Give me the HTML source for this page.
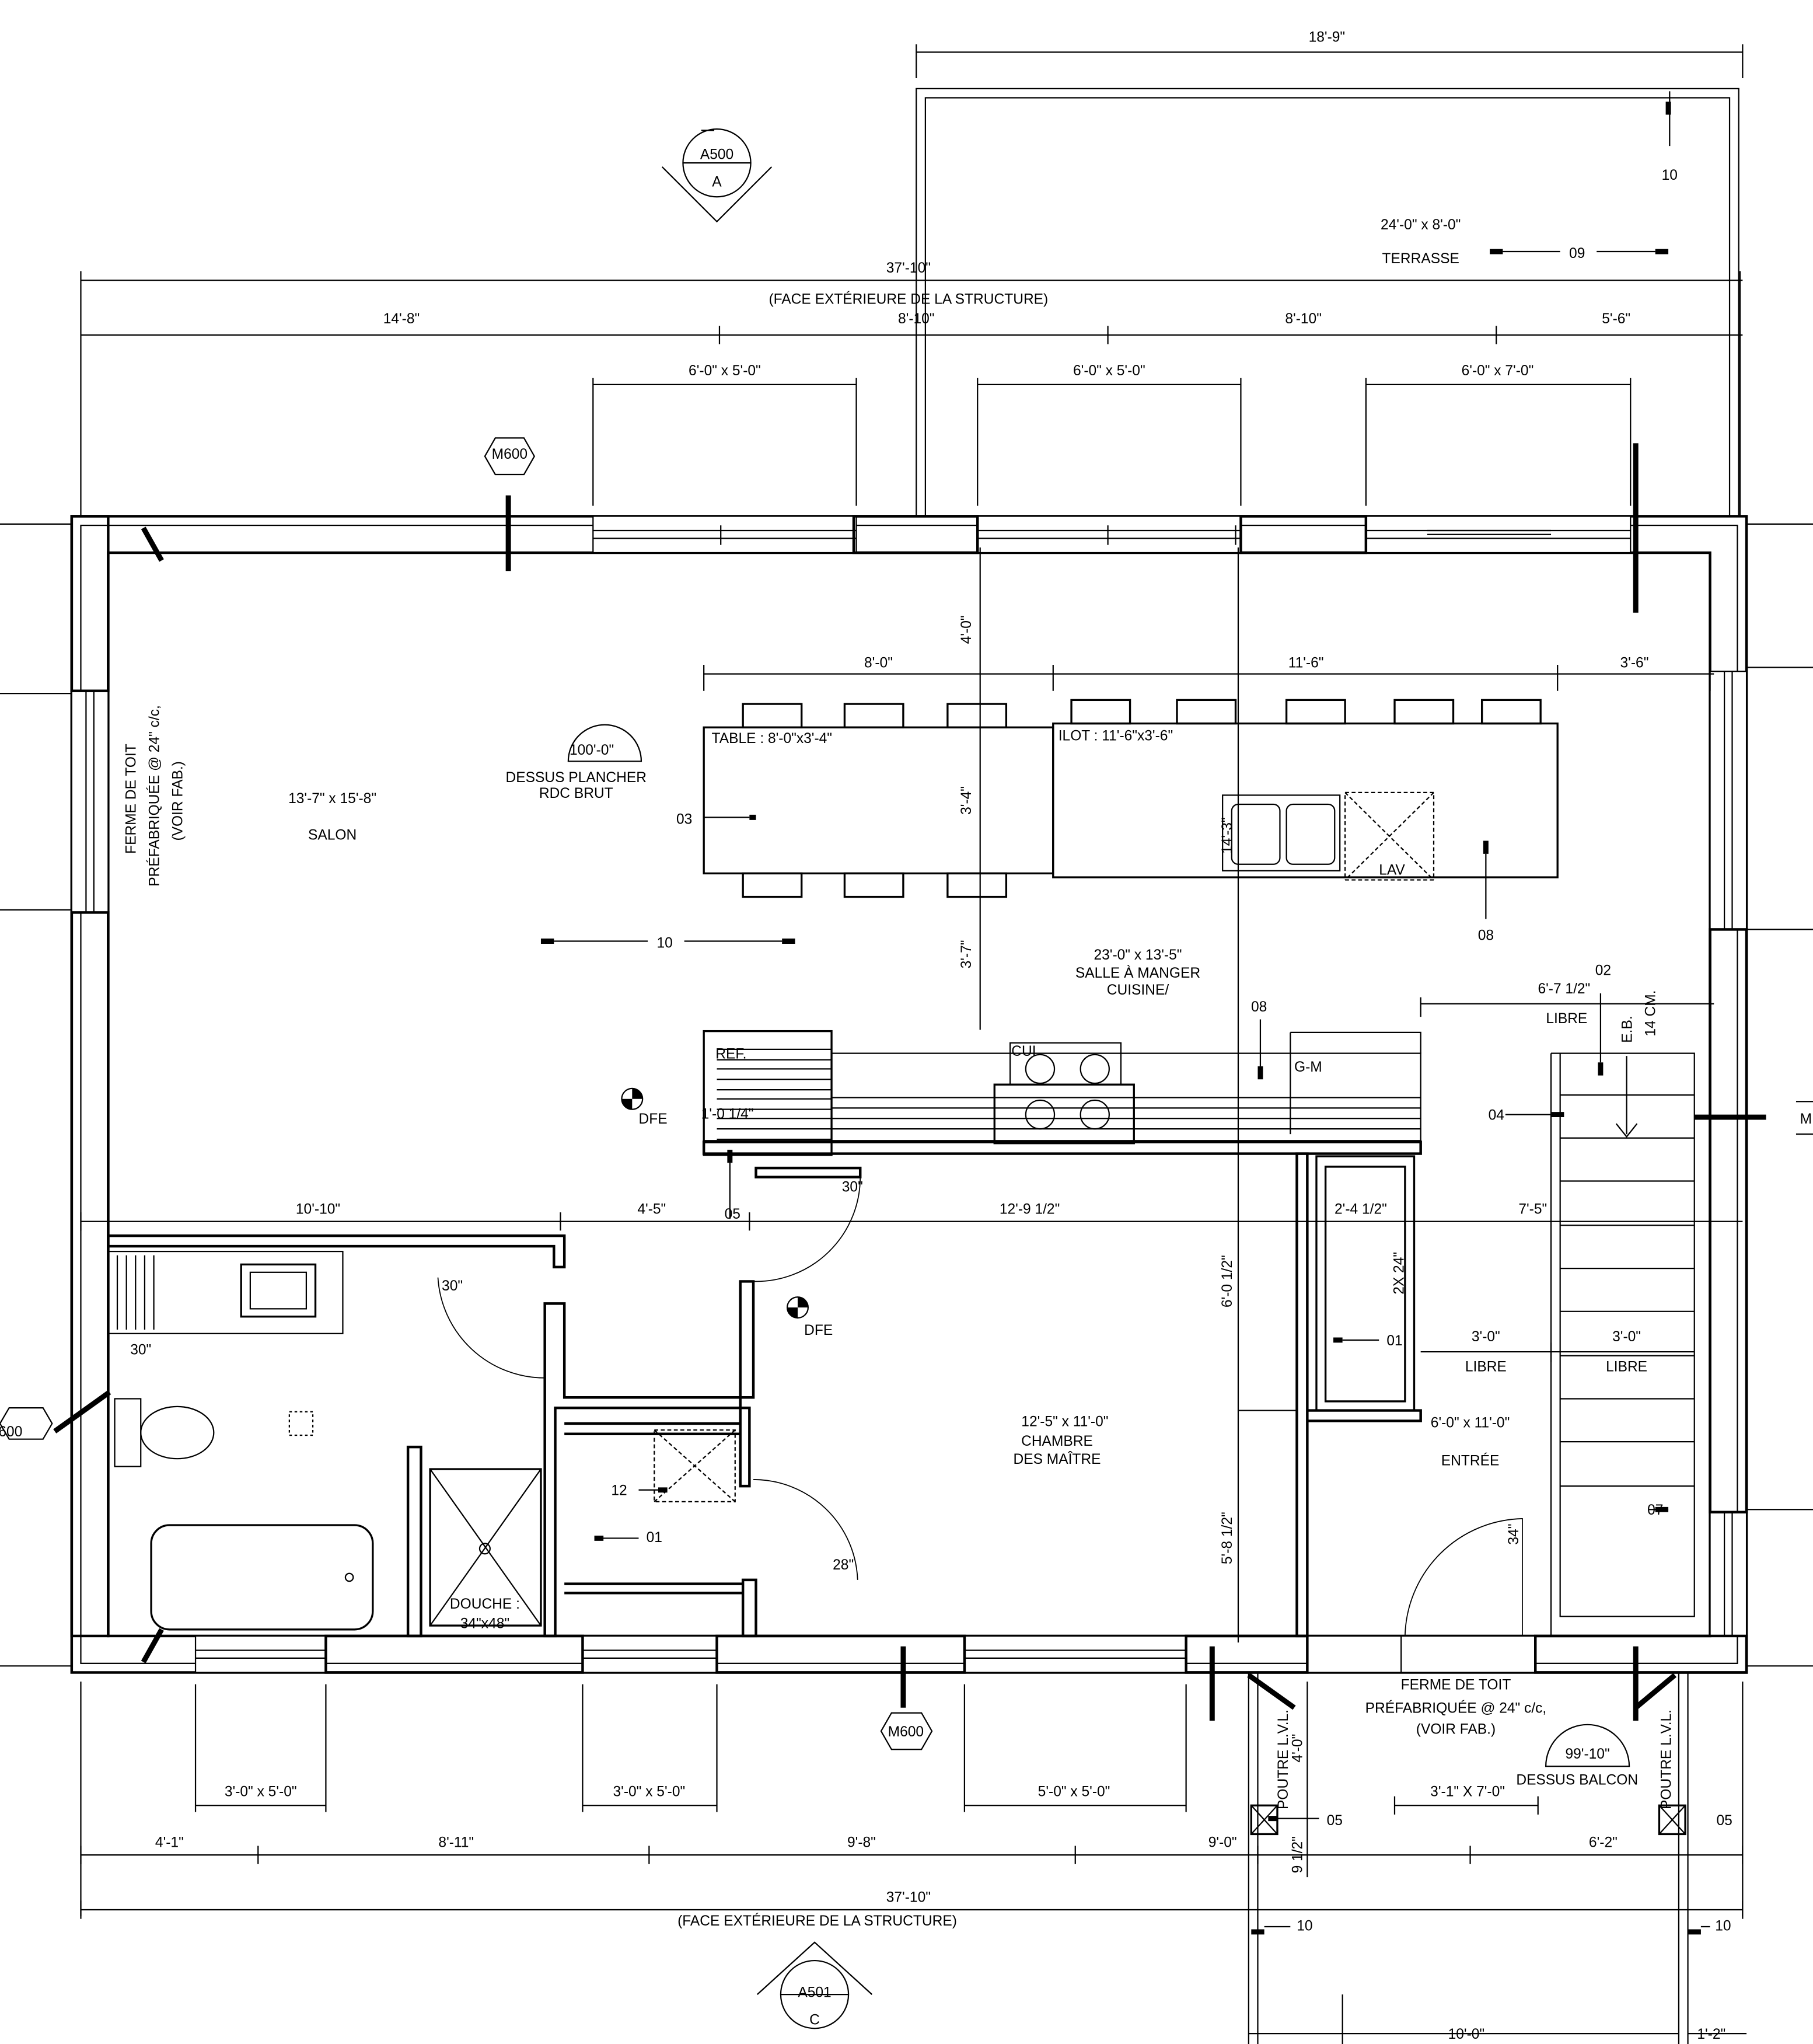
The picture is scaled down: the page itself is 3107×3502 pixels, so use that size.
<!DOCTYPE html>
<html><head><meta charset="utf-8"><style>
html,body{margin:0;padding:0;background:#fff}
svg{display:block}
text{font-family:"Liberation Sans",sans-serif;font-size:11px;fill:#000}
</style></head><body>
<svg width="3107" height="3502" viewBox="0 0 1391 1568" preserveAspectRatio="none" xmlns="http://www.w3.org/2000/svg">
<rect width="1391" height="1568" fill="#fff"/>
<g stroke="#000" fill="none" stroke-width="1">
<!-- terrace -->
<path d="M703 396V68H1334V396M710 396V75H1327V396"/>
<line x1="703" y1="40" x2="1337" y2="40"/>
<line x1="703" y1="34" x2="703" y2="60"/><line x1="1337" y1="34" x2="1337" y2="60"/>
<line x1="1281" y1="70" x2="1281" y2="112"/>
<!-- dims top -->
<line x1="62" y1="215" x2="1337" y2="215"/>
<line x1="62" y1="257" x2="1337" y2="257"/>
<line x1="62" y1="208" x2="62" y2="396"/><line x1="1335" y1="208" x2="1335" y2="396"/>
<line x1="552" y1="250" x2="552" y2="264"/><line x1="850" y1="250" x2="850" y2="264"/><line x1="1148" y1="250" x2="1148" y2="264"/>
<path d="M455 295H657M750 295H952M1048 295H1251"/>
<path d="M455 290V388M657 290V388M750 290V388M952 290V388M1048 290V388M1251 290V388"/>
<path d="M0 402H55M1340 402H1391M0 532H55M0 698H55M1340 512H1391M1340 713H1391M1340 1158H1391M0 1278H55M1340 1278H1391"/>
<!-- outer walls -->
<rect x="55" y="396" width="1285" height="887" stroke-width="2"/>
<rect x="83" y="424" width="1229" height="831" stroke-width="2"/>
<rect x="62" y="403" width="1271" height="873"/>
<!-- window openings top -->
<g fill="#fff">
<rect x="455" y="396" width="202" height="28"/><rect x="750" y="396" width="202" height="28"/><rect x="1048" y="396" width="203" height="28"/>
<rect x="55" y="530" width="28" height="170"/><rect x="1312" y="515" width="28" height="198"/><rect x="1312" y="1160" width="28" height="95"/>
<rect x="150" y="1255" width="100" height="28"/><rect x="447" y="1255" width="103" height="28"/><rect x="740" y="1255" width="170" height="28"/><rect x="1003" y="1255" width="75" height="28"/><rect x="1075" y="1255" width="103" height="28"/>
</g>
<path d="M455 407H657M455 413H657M750 407H952M750 413H952M1048 407H1251M1048 413H1251M66 530V700M72 530V700M1323 515V713M1329 515V713M1323 1160V1255M1329 1160V1255M150 1266H250M150 1272H250M447 1266H550M447 1272H550M740 1266H910M740 1272H910"/>
<path d="M553 403V418M850 403V418M948 403V418M1095 407H1190M1095 410H1190"/>
<rect x="655" y="396" width="95" height="28" stroke-width="2"/><rect x="952" y="396" width="96" height="28" stroke-width="2"/>
<rect x="55" y="396" width="28" height="134" stroke-width="2"/><rect x="55" y="700" width="28" height="555" stroke-width="2"/>
<rect x="1312" y="713" width="28" height="447" stroke-width="2"/>
<rect x="250" y="1255" width="197" height="28" stroke-width="2"/><rect x="550" y="1255" width="190" height="28" stroke-width="2"/><rect x="910" y="1255" width="93" height="28" stroke-width="2"/><rect x="1178" y="1255" width="162" height="28" stroke-width="2"/>
<!-- table & island -->
<rect x="540" y="558" width="268" height="112" stroke-width="1.5"/>
<rect x="808" y="555" width="387" height="118" stroke-width="1.5"/>
<g stroke-width="1.5">
<rect x="570" y="540" width="45" height="18"/><rect x="648" y="540" width="45" height="18"/><rect x="727" y="540" width="45" height="18"/>
<rect x="570" y="670" width="45" height="18"/><rect x="648" y="670" width="45" height="18"/><rect x="727" y="670" width="45" height="18"/>
<rect x="822" y="537" width="45" height="18"/><rect x="903" y="537" width="45" height="18"/><rect x="987" y="537" width="45" height="18"/><rect x="1070" y="537" width="45" height="18"/><rect x="1137" y="537" width="45" height="18"/>
</g>
<rect x="938" y="610" width="90" height="58"/><rect x="945" y="617" width="37" height="46" rx="5"/><rect x="987" y="617" width="37" height="46" rx="5"/>
<rect x="1032" y="608" width="68" height="67" stroke-dasharray="3 2"/><path d="M1032 608L1100 675M1100 608L1032 675" stroke-dasharray="3 2"/>
<path d="M540 517H1315M540 510V530M808 510V530M1195 510V530M1312 510V530"/>
<path d="M752 420V790" /><path d="M950 420V1260"/>
<!-- kitchen counter -->
<rect x="540" y="791" width="98" height="95" stroke-width="1.5"/>
<path d="M550 805H638M550 813H638M550 820H638M550 828H638M550 836H638M550 843H638M550 851H638M550 858H638M550 866H638M550 874H638"/>
<path d="M638 808H1090V875H540M638 842H1090M638 850H1090M638 858H1090M638 866H1090M860 842H990" />
<rect x="763" y="832" width="107" height="45" stroke-width="1.5"/><rect x="775" y="800" width="85" height="32"/>
<circle cx="798" cy="820" r="11"/><circle cx="840" cy="820" r="11"/><circle cx="798" cy="855" r="11"/><circle cx="840" cy="855" r="11"/>
<path d="M990 792H1090V808M990 792V870"/>
<!-- interior walls -->
<g stroke-width="2">
<path d="M83 948H433V972H425V956H83Z"/>
<path d="M540 876H1090V885H540Z"/>
<path d="M580 896H660V903H580Z"/>
<path d="M418 1000V1255H426V1080H575V1140H568V983H578V1072H433V1000Z"/>
<path d="M433 1092H568M433 1100H568" />
<path d="M433 1215H570V1222H433M570 1212V1255H580V1212Z"/>
<path d="M313 1110V1255H323V1110Z"/>
<path d="M995 885V1255H1003V885Z"/>
<path d="M1010 887H1085V1082H1010ZM1017 895H1078V1075H1017Z" stroke-width="1.5"/>
<path d="M1003 1082H1090V1090H1003"/>
</g>
<!-- bathroom fixtures -->
<rect x="83" y="960" width="180" height="63"/><rect x="185" y="970" width="57" height="40" stroke-width="1.5"/><rect x="192" y="976" width="43" height="28"/>
<path d="M90 963V1020M97 963V1020M104 963V1020M111 963V1020M118 963V1020"/>
<rect x="88" y="1073" width="20" height="52"/><ellipse cx="136" cy="1099" rx="28" ry="20"/>
<rect x="116" y="1170" width="170" height="80" rx="14" stroke-width="1.5"/><circle cx="268" cy="1210" r="3"/>
<rect x="330" y="1127" width="85" height="120" stroke-width="1.5"/><path d="M330 1127L415 1247M415 1127L330 1247"/><circle cx="372" cy="1188" r="4"/>
<rect x="502" y="1097" width="62" height="55" stroke-dasharray="3 2"/><path d="M502 1097L564 1152M564 1097L502 1152" stroke-dasharray="3 2"/>
<rect x="222" y="1083" width="18" height="18" stroke-dasharray="2 2"/>
<!-- door arcs -->
<path d="M336 980A82 82 0 0 0 418 1057" stroke-width="0.8"/>
<path d="M578 983A80 80 0 0 0 660 903" stroke-width="0.8"/>
<path d="M578 1135A80 80 0 0 1 658 1212" stroke-width="0.8"/>
<path d="M1078 1255A92 92 0 0 1 1168 1165V1255" stroke-width="0.8"/>
<!-- stairs -->
<path d="M1190 808V1255M1197 808V1240H1300V808H1190"/>
<path d="M1197 840H1300M1197 873H1300M1197 906H1300M1197 940H1300M1197 973H1300M1197 1006H1300M1197 1040H1300M1197 1073H1300M1197 1106H1300M1197 1140H1300"/>
<path d="M1248 810V870M1240 862L1248 872L1256 862"/>
<path d="M1090 770H1315M1090 765V780M1312 765V780"/>
<path d="M1090 1037H1300M1190 1030V1045"/>
<path d="M1300 857H1355" stroke-width="4"/>
<!-- dims mid -->
<path d="M62 937H1337M62 930V944M430 930V944M575 930V944M1003 930V944M1085 930V944"/>
<path d="M950 1082H995"/>
<!-- bottom structure -->
<path d="M958 1283V1568M965 1283V1568M1288 1283V1568M1295 1283V1568"/>
<path d="M958 1285L993 1310M1285 1285L1255 1310" stroke-width="4"/>
<rect x="960" y="1385" width="20" height="22" stroke-width="1.5"/><path d="M960 1385L980 1407M980 1385L960 1407"/>
<rect x="1273" y="1385" width="20" height="22" stroke-width="1.5"/><path d="M1273 1385L1293 1407M1293 1385L1273 1407"/>
<path d="M1070 1385H1180M1070 1378V1392M1180 1378V1392"/>
<path d="M62 1423H1337M62 1416V1430M198 1416V1430M498 1416V1430M825 1416V1430M965 1416V1430M1128 1416V1430M1337 1416V1430"/>
<path d="M62 1465H1337M62 1458V1472M1337 1458V1472"/>
<path d="M62 1290V1470M1337 1290V1470"/>
<path d="M150 1385H250M447 1385H550M740 1385H910M150 1292V1390M250 1292V1390M447 1292V1390M550 1292V1390M740 1292V1390M910 1292V1390"/>
<path d="M958 1560H1288M1295 1560H1340"/>
<path d="M1003 1290V1440"/>
<!-- markers -->
<path d="M538 100L548 100M524 125a26 26 0 1 0 52 0a26 26 0 1 0 -52 0M508 128L550 170L592 128"/>
<path d="M599 1530a26 26 0 1 0 52 0a26 26 0 1 0 -52 0M581 1530L625 1490L669 1530"/>
<path d="M599 1530H651M524 125H576"/>
<path d="M372 350L380 336H402L410 350L402 364H380Z"/>
<path d="M676 1328L684 1314H707L715 1328L707 1342H684Z"/>
<path d="M0 1092L7 1080H33L40 1092L33 1104H7Z"/>
<path d="M1378 845L1391 845M1378 870L1391 870"/>
<path d="M436 584a28 28 0 0 1 56 0Z"/>
<path d="M1186 1355a32 32 0 0 1 64 0Z"/>
<circle cx="485" cy="843" r="8"/><circle cx="612" cy="1003" r="8"/>
</g>
<g fill="#000">
<path d="M485 835A8 8 0 0 1 493 843H485ZM485 851A8 8 0 0 1 477 843H485Z"/>
<path d="M612 995A8 8 0 0 1 620 1003H612ZM612 1011A8 8 0 0 1 604 1003H612Z"/>
</g>
<g stroke="#000" stroke-width="4">
<path d="M390 380V438M1255 340V470M110 405L124 430M110 1275L124 1250M42 1098L84 1068M693 1263V1310M930 1263V1320M1255 1263V1320"/>
<path d="M1143 193H1153M1270 193H1280M415 722H425M600 722H610M575 627H580M960 1482H970M1295 1482H1305M1140 645V655M967 818V828M1228 815V825M1190 855H1200M1270 1158H1280M1023 1028H1030M1280 78V88M456 1180H463M505 1143H512M560 882V892M973 1395H980"/>
</g>
<g stroke="#000" stroke-width="1">
<path d="M1153 193H1197M1225 193H1270M425 722H497M525 722H600M540 627H575M460 1180H490M512 1143H490M1030 1028H1058M1155 855H1190M1265 1158H1280M1140 655V705M967 782V818M1228 762V815M980 1395H1012M970 1478H990M1305 1478H1312M1030 1530V1568M560 892V935"/>
</g>
<g>
<text x="1018" y="32" text-anchor="middle">18'-9"</text>
<text x="1281" y="138" text-anchor="middle">10</text>
<text x="1090" y="176" text-anchor="middle">24'-0" x 8'-0"</text>
<text x="1090" y="202" text-anchor="middle">TERRASSE</text>
<text x="1210" y="198" text-anchor="middle">09</text>
<text x="697" y="209" text-anchor="middle">37'-10"</text>
<text x="697" y="233" text-anchor="middle">(FACE EXTÉRIEURE DE LA STRUCTURE)</text>
<text x="308" y="248" text-anchor="middle">14'-8"</text><text x="703" y="248" text-anchor="middle">8'-10"</text><text x="1000" y="248" text-anchor="middle">8'-10"</text><text x="1240" y="248" text-anchor="middle">5'-6"</text>
<text x="556" y="288" text-anchor="middle">6'-0" x 5'-0"</text><text x="851" y="288" text-anchor="middle">6'-0" x 5'-0"</text><text x="1149" y="288" text-anchor="middle">6'-0" x 7'-0"</text>
<text x="550" y="122" text-anchor="middle">A500</text><text x="550" y="143" text-anchor="middle">A</text>
<text x="391" y="352" text-anchor="middle">M600</text>
<text x="695" y="1332" text-anchor="middle">M600</text>
<text x="8" y="1102" text-anchor="middle">600</text>
<text x="1381" y="862">M</text>
<text x="625" y="1532" text-anchor="middle">A501</text><text x="625" y="1553" text-anchor="middle">C</text>
<text x="674" y="512" text-anchor="middle">8'-0"</text><text x="1002" y="512" text-anchor="middle">11'-6"</text><text x="1254" y="512" text-anchor="middle">3'-6"</text>
<text x="546" y="570">TABLE : 8'-0"x3'-4"</text>
<text x="812" y="568">ILOT : 11'-6"x3'-6"</text>
<text x="1068" y="671" text-anchor="middle">LAV</text>
<text x="454" y="579" text-anchor="middle">100'-0"</text>
<text x="442" y="600" text-anchor="middle">DESSUS PLANCHER</text><text x="442" y="612" text-anchor="middle">RDC BRUT</text>
<text x="255" y="616" text-anchor="middle">13'-7" x 15'-8"</text><text x="255" y="644" text-anchor="middle">SALON</text>
<text x="525" y="632" text-anchor="middle">03</text>
<text x="510" y="727" text-anchor="middle">10</text>
<text x="1140" y="721" text-anchor="middle">08</text>
<text x="873" y="736" text-anchor="middle">23'-0" x 13'-5"</text><text x="873" y="750" text-anchor="middle">SALLE À MANGER</text><text x="873" y="763" text-anchor="middle">CUISINE/</text>
<text x="966" y="776" text-anchor="middle">08</text>
<text x="1230" y="748" text-anchor="middle">02</text>
<text x="1200" y="762" text-anchor="middle">6'-7 1/2"</text><text x="1202" y="785" text-anchor="middle">LIBRE</text>
<text x="549" y="812">REF.</text><text x="776" y="810">CUI</text><text x="993" y="822">G-M</text>
<text x="538" y="858">1'-0 1/4"</text>
<text x="490" y="862" font-size="13">DFE</text><text x="617" y="1024" font-size="13">DFE</text>
<text x="1148" y="859" text-anchor="middle">04</text>
<text x="654" y="914" text-anchor="middle">30"</text>
<text x="244" y="931" text-anchor="middle">10'-10"</text><text x="500" y="931" text-anchor="middle">4'-5"</text><text x="562" y="935" text-anchor="middle">05</text><text x="790" y="931" text-anchor="middle">12'-9 1/2"</text><text x="1044" y="931" text-anchor="middle">2'-4 1/2"</text><text x="1176" y="931" text-anchor="middle">7'-5"</text>
<text x="347" y="990" text-anchor="middle">30"</text><text x="108" y="1039" text-anchor="middle">30"</text>
<text x="1070" y="1032" text-anchor="middle">01</text>
<text x="1140" y="1029" text-anchor="middle">3'-0"</text><text x="1140" y="1052" text-anchor="middle">LIBRE</text>
<text x="1248" y="1029" text-anchor="middle">3'-0"</text><text x="1248" y="1052" text-anchor="middle">LIBRE</text>
<text x="817" y="1094" text-anchor="middle">12'-5" x 11'-0"</text><text x="811" y="1109" text-anchor="middle">CHAMBRE</text><text x="811" y="1123" text-anchor="middle">DES MAÎTRE</text>
<text x="1128" y="1095" text-anchor="middle">6'-0" x 11'-0"</text><text x="1128" y="1124" text-anchor="middle">ENTRÉE</text>
<text x="475" y="1147" text-anchor="middle">12</text><text x="502" y="1183" text-anchor="middle">01</text>
<text x="1270" y="1162" text-anchor="middle">07</text>
<text x="647" y="1204" text-anchor="middle">28"</text>
<text x="372" y="1234" text-anchor="middle">DOUCHE :</text><text x="372" y="1249" text-anchor="middle">34"x48"</text>
<text x="1117" y="1296" text-anchor="middle">FERME DE TOIT</text><text x="1117" y="1314" text-anchor="middle">PRÉFABRIQUÉE @ 24" c/c,</text><text x="1117" y="1330" text-anchor="middle">(VOIR FAB.)</text>
<text x="1218" y="1349" text-anchor="middle">99'-10"</text><text x="1210" y="1369" text-anchor="middle">DESSUS BALCON</text>
<text x="200" y="1378" text-anchor="middle">3'-0" x 5'-0"</text><text x="498" y="1378" text-anchor="middle">3'-0" x 5'-0"</text><text x="824" y="1378" text-anchor="middle">5'-0" x 5'-0"</text><text x="1126" y="1378" text-anchor="middle">3'-1" X 7'-0"</text>
<text x="1024" y="1400" text-anchor="middle">05</text><text x="1323" y="1400" text-anchor="middle">05</text>
<text x="130" y="1417" text-anchor="middle">4'-1"</text><text x="350" y="1417" text-anchor="middle">8'-11"</text><text x="661" y="1417" text-anchor="middle">9'-8"</text><text x="938" y="1417" text-anchor="middle">9'-0"</text><text x="1230" y="1417" text-anchor="middle">6'-2"</text>
<text x="697" y="1459" text-anchor="middle">37'-10"</text><text x="627" y="1477" text-anchor="middle">(FACE EXTÉRIEURE DE LA STRUCTURE)</text>
<text x="1001" y="1481" text-anchor="middle">10</text><text x="1322" y="1481" text-anchor="middle">10</text>
<text x="1125" y="1564" text-anchor="middle">10'-0"</text><text x="1313" y="1564" text-anchor="middle">1'-2"</text>
<text transform="translate(104,655) rotate(-90)">FERME DE TOIT</text>
<text transform="translate(122,680) rotate(-90)">PRÉFABRIQUÉE @ 24" c/c,</text>
<text transform="translate(140,645) rotate(-90)">(VOIR FAB.)</text>
<text transform="translate(745,494) rotate(-90)">4'-0"</text>
<text transform="translate(745,625) rotate(-90)">3'-4"</text>
<text transform="translate(745,743) rotate(-90)">3'-7"</text>
<text transform="translate(945,655) rotate(-90)">14'-3"</text>
<text transform="translate(945,1003) rotate(-90)">6'-0 1/2"</text>
<text transform="translate(945,1200) rotate(-90)">5'-8 1/2"</text>
<text transform="translate(1077,993) rotate(-90)">2X 24"</text>
<text transform="translate(1252,800) rotate(-90)">E.B.</text>
<text transform="translate(1270,795) rotate(-90)">14 CM.</text>
<text transform="translate(1165,1185) rotate(-90)">34"</text>
<text transform="translate(988,1388) rotate(-90)">POUTRE L.V.L.</text>
<text transform="translate(999,1352) rotate(-90)">4'-0"</text>
<text transform="translate(999,1437) rotate(-90)">9 1/2"</text>
<text transform="translate(1282,1388) rotate(-90)">POUTRE L.V.L.</text>
</g>
</svg>
</body></html>
